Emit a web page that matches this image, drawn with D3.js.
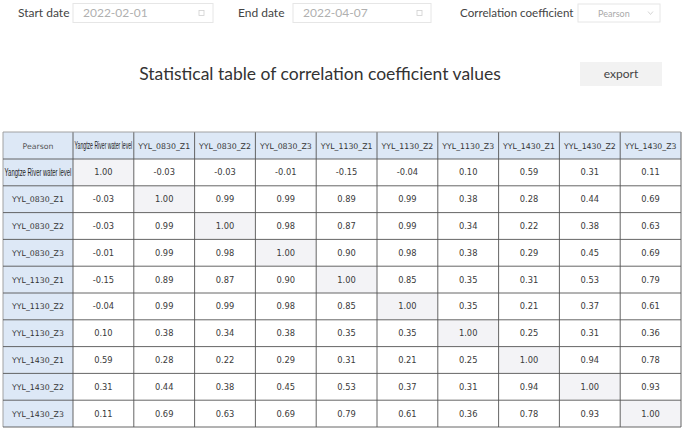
<!DOCTYPE html>
<html>
<head>
<meta charset="utf-8">
<script src="https://cdn.jsdelivr.net/npm/d3@7"></script>
<style>
  body { margin: 0; background: #fff; }
  svg { display: block; }
</style>
</head>
<body>
<div id="chart"></div>
<script>
// table data
var method = 'Pearson';
var startDate = '2022-02-01';
var endDate = '2022-04-07';
var title = 'Statistical table of correlation coefficient values';

var names = ['Yangtze River water level', 'YYL_0830_Z1', 'YYL_0830_Z2', 'YYL_0830_Z3',
  'YYL_1130_Z1', 'YYL_1130_Z2', 'YYL_1130_Z3', 'YYL_1430_Z1', 'YYL_1430_Z2', 'YYL_1430_Z3'];

var rowRiver = [1.00, -0.03, -0.03, -0.01, -0.15, -0.04, 0.10, 0.59, 0.31, 0.11];
var row0830Z1 = [-0.03, 1.00, 0.99, 0.99, 0.89, 0.99, 0.38, 0.28, 0.44, 0.69];
var row0830Z2 = [-0.03, 0.99, 1.00, 0.98, 0.87, 0.99, 0.34, 0.22, 0.38, 0.63];
var row0830Z3 = [-0.01, 0.99, 0.98, 1.00, 0.90, 0.98, 0.38, 0.29, 0.45, 0.69];
var row1130Z1 = [-0.15, 0.89, 0.87, 0.90, 1.00, 0.85, 0.35, 0.31, 0.53, 0.79];
var row1130Z2 = [-0.04, 0.99, 0.99, 0.98, 0.85, 1.00, 0.35, 0.21, 0.37, 0.61];
var row1130Z3 = [0.10, 0.38, 0.34, 0.38, 0.35, 0.35, 1.00, 0.25, 0.31, 0.36];
var row1430Z1 = [0.59, 0.28, 0.22, 0.29, 0.31, 0.21, 0.25, 1.00, 0.94, 0.78];
var row1430Z2 = [0.31, 0.44, 0.38, 0.45, 0.53, 0.37, 0.31, 0.94, 1.00, 0.93];
var row1430Z3 = [0.11, 0.69, 0.63, 0.69, 0.79, 0.61, 0.36, 0.78, 0.93, 1.00];

var matrix = [rowRiver, row0830Z1, row0830Z2, row0830Z3, row1130Z1,
  row1130Z2, row1130Z3, row1430Z1, row1430Z2, row1430Z3];

var width = 685, height = 433;
var svg = d3.select('#chart').append('svg')
  .attr('width', width)
  .attr('height', height);

var uiFont = 'Lato, "Open Sans", sans-serif';
var cellFont = '"DejaVu Sans", Verdana, sans-serif';

// plain hyphen for negatives, like the original table
var fmt = d3.formatLocale({ decimal: '.', thousands: ',', grouping: [3], currency: ['', ''], minus: '-' }).format('.2f');

// top filter bar
function dateBox(label, lx, bx, bw, value) {
  svg.append('text')
    .attr('x', lx).attr('y', 17)
    .attr('font-family', uiFont).attr('font-size', 12)
    .attr('fill', '#444')
    .text(label);
  svg.append('rect')
    .attr('x', bx).attr('y', 3.5).attr('width', bw).attr('height', 19)
    .attr('fill', '#fff').attr('stroke', '#e6e6e6');
  svg.append('text')
    .attr('x', bx + 10).attr('y', 17)
    .attr('font-family', uiFont).attr('font-size', 12)
    .attr('fill', '#b0b0b0')
    .text(value);
  // little calendar icon
  svg.append('rect')
    .attr('x', bx + bw - 14).attr('y', 10.5).attr('width', 5).attr('height', 5)
    .attr('fill', 'none').attr('stroke', '#d0d0d0').attr('stroke-width', 0.8);
}
dateBox('Start date', 18, 73, 140, startDate);
dateBox('End date', 238, 293, 138, endDate);

svg.append('text')
  .attr('x', 460).attr('y', 17)
  .attr('font-family', uiFont).attr('font-size', 11.6)
  .attr('fill', '#444')
  .text('Correlation coefficient');
svg.append('rect')
  .attr('x', 578).attr('y', 4).attr('width', 82).attr('height', 18)
  .attr('fill', '#fff').attr('stroke', '#e6e6e6');
svg.append('text')
  .attr('x', 598).attr('y', 16.5)
  .attr('font-family', uiFont).attr('font-size', 9)
  .attr('fill', '#aaa')
  .text(method);
svg.append('path')
  .attr('d', 'M648,11.5 l2.5,3 l2.5,-3')
  .attr('fill', 'none').attr('stroke', '#ccc').attr('stroke-width', 0.8);

// title + export button
svg.append('text')
  .attr('x', 320).attr('y', 80)
  .attr('text-anchor', 'middle')
  .attr('font-family', uiFont).attr('font-size', 17.5)
  .attr('fill', '#333')
  .text(title);
svg.append('rect')
  .attr('x', 580).attr('y', 62).attr('width', 82).attr('height', 24)
  .attr('fill', '#f2f2f2');
svg.append('text')
  .attr('x', 621).attr('y', 78)
  .attr('text-anchor', 'middle')
  .attr('font-family', uiFont).attr('font-size', 12)
  .attr('fill', '#444')
  .text('export');

// table grid through band scales
var tableLeft = 3, firstColW = 70, tableRight = 681;
var headerTop = 132, headerH = 27, tableBottom = 427;

var x = d3.scaleBand()
  .domain(d3.range(names.length))
  .range([tableLeft + firstColW, tableRight]);
var y = d3.scaleBand()
  .domain(d3.range(names.length))
  .range([headerTop + headerH, tableBottom]);

var table = svg.append('g');

// header row background
table.append('rect')
  .attr('x', tableLeft).attr('y', headerTop)
  .attr('width', tableRight - tableLeft).attr('height', headerH)
  .attr('fill', '#dde8f6');
// first column background
table.append('rect')
  .attr('x', tableLeft).attr('y', headerTop)
  .attr('width', firstColW).attr('height', tableBottom - headerTop)
  .attr('fill', '#dde8f6');

// body cells
var rows = table.selectAll('g.row')
  .data(matrix)
  .enter().append('g')
  .attr('class', 'row')
  .attr('transform', function(d, i) { return 'translate(0,' + y(i) + ')'; });

rows.each(function(rowVals, ri) {
  var g = d3.select(this);
  g.selectAll('rect')
    .data(rowVals)
    .enter().append('rect')
    .attr('x', function(d, ci) { return x(ci); })
    .attr('y', 0)
    .attr('width', x.bandwidth())
    .attr('height', y.bandwidth())
    .attr('fill', function(d, ci) { return ci === ri ? '#f3f3f6' : '#fff'; });
  g.selectAll('text')
    .data(rowVals)
    .enter().append('text')
    .attr('x', function(d, ci) { return x(ci) + x.bandwidth() / 2; })
    .attr('y', y.bandwidth() / 2 + 3)
    .attr('text-anchor', 'middle')
    .attr('font-family', cellFont).attr('font-size', 8.3)
    .attr('fill', '#3a3a3a')
    .text(function(d) { return fmt(d); });
});

// header labels
function labelText(sel, name, cx, cy, maxW) {
  var t = sel.append('text')
    .attr('text-anchor', 'middle')
    .attr('font-family', cellFont).attr('font-size', 7.8)
    .attr('fill', '#333')
    .attr('transform', 'translate(' + cx + ',' + cy + ')')
    .text(name);
  if (name.length > 14) {
    // the long river label is squeezed horizontally to the cell width
    t.attr('font-family', '"Liberation Sans Narrow", "Liberation Sans", sans-serif')
      .attr('font-size', 10.5)
      .attr('fill', '#222');
    var w = t.node().getComputedTextLength();
    var k = Math.min(1, maxW / w);
    t.attr('transform', 'translate(' + cx + ',' + (cy + 0.5) + ') scale(' + k + ',1)');
  }
  return t;
}

labelText(table, method, tableLeft + firstColW / 2, headerTop + headerH / 2 + 3, 0)
  .attr('fill', '#555');
names.forEach(function(n, i) {
  labelText(table, n, x(i) + x.bandwidth() / 2, headerTop + headerH / 2 + 3, x.bandwidth() - 3);
  labelText(table, n, tableLeft + firstColW / 2, y(i) + y.bandwidth() / 2 + 3, firstColW - 3);
});

// grid lines
var lineColor = '#555';
var vx = [tableLeft, tableLeft + firstColW].concat(x.domain().map(function(i) { return x(i) + x.bandwidth(); }));
var hy = [headerTop, headerTop + headerH].concat(y.domain().map(function(i) { return y(i) + y.bandwidth(); }));

table.selectAll('line.v')
  .data(vx)
  .enter().append('line')
  .attr('class', 'v')
  .attr('x1', function(d) { return d; }).attr('x2', function(d) { return d; })
  .attr('y1', headerTop).attr('y2', tableBottom)
  .attr('stroke', function(d, i) { return i === 0 ? '#999' : lineColor; })
  .attr('stroke-width', 0.9);

table.selectAll('line.h')
  .data(hy)
  .enter().append('line')
  .attr('class', 'h')
  .attr('x1', tableLeft).attr('x2', tableRight)
  .attr('y1', function(d) { return d; }).attr('y2', function(d) { return d; })
  .attr('stroke', function(d, i) { return i === 0 ? '#999' : lineColor; })
  .attr('stroke-width', 0.9);
</script>
</body>
</html>
